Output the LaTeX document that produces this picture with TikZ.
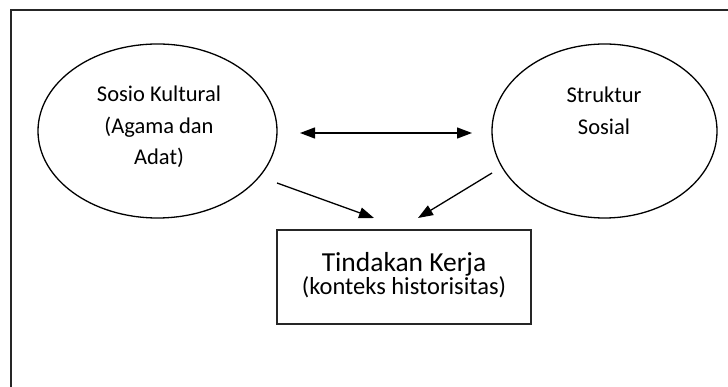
\documentclass[tikz,border=0pt]{standalone}
\usepackage{fontspec}
\setmainfont{Carlito}
\usetikzlibrary{arrows.meta, shapes.geometric}

\begin{document}
\begin{tikzpicture}[x=1pt, y=-1pt,
    circ/.style={ellipse, draw=black, line width=1.3pt, inner sep=0pt},
    box/.style={rectangle, draw=black!85, line width=1.4pt, inner sep=0pt},
    label/.style={align=center, font=\fontsize{22.5}{31.5}\selectfont},
    arrow/.style={-{Triangle[length=15pt,width=11pt]}, line width=1.3pt},
    twoway/.style={{Triangle[length=15pt,width=11pt]}-{Triangle[length=15pt,width=11pt]}, line width=1.3pt}
]
\useasboundingbox (0,0) rectangle (728,387);

% frame
\coordinate (TL) at (11,10);
\coordinate (TR) at (728,10);
\coordinate (BL) at (11,387);
\draw[line width=1.5pt, black!85] (TR) -- (TL) -- (BL);

\node[circ, minimum width=239pt, minimum height=174pt] (SK) at (157.5,131) {};
\node[circ, minimum width=225pt, minimum height=174pt] (SS) at (604.5,131) {};
\node[label] (SKtext) at (159,127) {Sosio Kultural\\(Agama dan\\Adat)};
\node[label] (SStext) at (604,111) {Struktur\\Sosial};

\node[box, minimum width=254pt, minimum height=94pt] (TK) at (404,277) {};
\node[align=center] (TKtext) at (404,275)
    {\fontsize{27.5}{31}\selectfont Tindakan Kerja\\\fontsize{24.5}{31}\selectfont(konteks historisitas)};

\coordinate (A1) at (300,133);
\coordinate (A2) at (472,133);
\coordinate (B1) at (277,183);
\coordinate (B2) at (374,218);
\coordinate (C1) at (492,173);
\coordinate (C2) at (418,218);

\draw[twoway] (A1) -- (A2);
\draw[arrow] (B1) -- (B2);
\draw[arrow] (C1) -- (C2);

\end{tikzpicture}
\end{document}
